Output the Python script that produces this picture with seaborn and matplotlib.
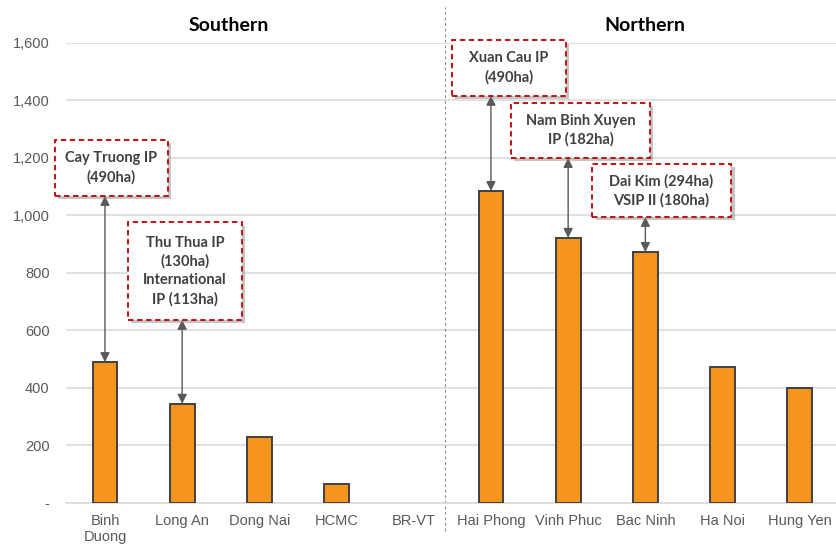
import matplotlib
matplotlib.use("Agg")
import matplotlib.pyplot as plt
import matplotlib.patheffects as pe
from matplotlib.patches import Rectangle
from matplotlib.transforms import blended_transform_factory
import pandas as pd
import seaborn as sns

# Industrial land by province (ha)
provinces = ["Binh\nDuong", "Long An", "Dong Nai", "HCMC", "BR-VT",
             "Hai Phong", "Vinh Phuc", "Bac Ninh", "Ha Noi", "Hung Yen"]
land_ha = [490, 345, 230, 66, 0, 1085, 922, 873, 473, 400]
regions = ["Southern", "Northern"]
ytick_values = [0, 200, 400, 600, 800, 1000, 1200, 1400, 1600]
ytick_labels = ["-", "200", "400", "600", "800", "1,000", "1,200", "1,400", "1,600"]

# Upcoming parks called out above selected provinces
callout_text = [
    "Cay Truong IP\n(490ha)",
    "Thu Thua IP\n(130ha)\nInternational\nIP (113ha)",
    "Xuan Cau IP\n(490ha)",
    "Nam Binh Xuyen\nIP (182ha)",
    "Dai Kim (294ha)\nVSIP II (180ha)",
]
callout_province = ["Binh\nDuong", "Long An", "Hai Phong", "Vinh Phuc", "Bac Ninh"]

df = pd.DataFrame({"province": provinces, "ha": land_ha})

sns.set_style("white")
plt.rcParams["font.family"] = ["Liberation Sans", "DejaVu Sans"]

fig = plt.figure(figsize=(8.37, 5.49), dpi=100)
ax = fig.add_axes([0.0793, 0.0838, 0.9223, 0.838])

sns.barplot(data=df, x="province", y="ha", order=provinces, color="#F7941D",
            saturation=1, width=0.32, edgecolor="#404040", linewidth=1.4,
            ax=ax, zorder=3)
# Empty provinces get no outline
for bar in ax.patches:
    if bar.get_height() == 0:
        bar.set_linewidth(0)

ax.set_xlim(-0.5, 9.5)
ax.set_ylim(0, 1600)
ax.set_yticks(ytick_values)
ax.set_yticklabels(ytick_labels)
ax.set_xlabel("")
ax.set_ylabel("")
ax.tick_params(axis="y", length=0, pad=12, labelsize=10.5, labelcolor="#595959")
ax.tick_params(axis="x", length=0, pad=8, labelsize=10.5, labelcolor="#595959")
for lbl in ax.get_xticklabels():
    lbl.set_fontsize(10.5)
    lbl.set_linespacing(1.15)
ax.grid(axis="y", color="#D9D9D9", linewidth=1.1, zorder=0)
ax.set_axisbelow(True)
for side in ["top", "right", "left"]:
    ax.spines[side].set_visible(False)
ax.spines["bottom"].set_color("#D9D9D9")
ax.spines["bottom"].set_linewidth(1.1)

# Region divider
trans = blended_transform_factory(ax.transData, ax.transAxes)
ax.plot([4.4, 4.4], [-0.06, 1.078], transform=trans, color="#8C8C8C",
        linestyle=(0, (2.5, 2.5)), linewidth=0.8, clip_on=False)

# Region titles
title_font = dict(family=["Lato", "DejaVu Sans"], fontsize=14, fontweight="bold",
                  color="#000000", ha="center", va="center")
ax.text(1.6, 1.038, regions[0], transform=trans, **title_font)
ax.text(7.0, 1.038, regions[1], transform=trans, **title_font)

# Callout boxes: (x0, x1, y0, y1) in data coordinates
boxes = [
    (-0.648, 0.816, 1068, 1263),
    (0.298, 1.775, 637, 977),
    (4.495, 5.970, 1416, 1610),
    (5.260, 7.060, 1200, 1391),
    (6.310, 8.110, 995, 1179),
]
shadow = [pe.SimplePatchShadow(offset=(2.5, -2.5), shadow_rgbFace="#808080", alpha=0.45),
          pe.Normal()]
for text, prov, (x0, x1, y0, y1) in zip(callout_text, callout_province, boxes):
    i = provinces.index(prov)
    rect = Rectangle((x0, y0), x1 - x0, y1 - y0, facecolor="white",
                     edgecolor="#C00000", linewidth=1.3, linestyle=(0, (3, 2)),
                     zorder=5, clip_on=False, path_effects=shadow)
    ax.add_patch(rect)
    ax.text((x0 + x1) / 2, (y0 + y1) / 2, text, ha="center", va="center",
            family=["Lato", "DejaVu Sans"], fontsize=10.5, fontweight="bold",
            color="#404040", linespacing=1.4, zorder=6)
    ax.annotate("", xy=(i, land_ha[i]), xytext=(i, y0),
                arrowprops=dict(arrowstyle="<|-|>", color="#595959", lw=1.0,
                                mutation_scale=14, shrinkA=0, shrinkB=0),
                zorder=4)

fig.savefig("out.png", dpi=100)
